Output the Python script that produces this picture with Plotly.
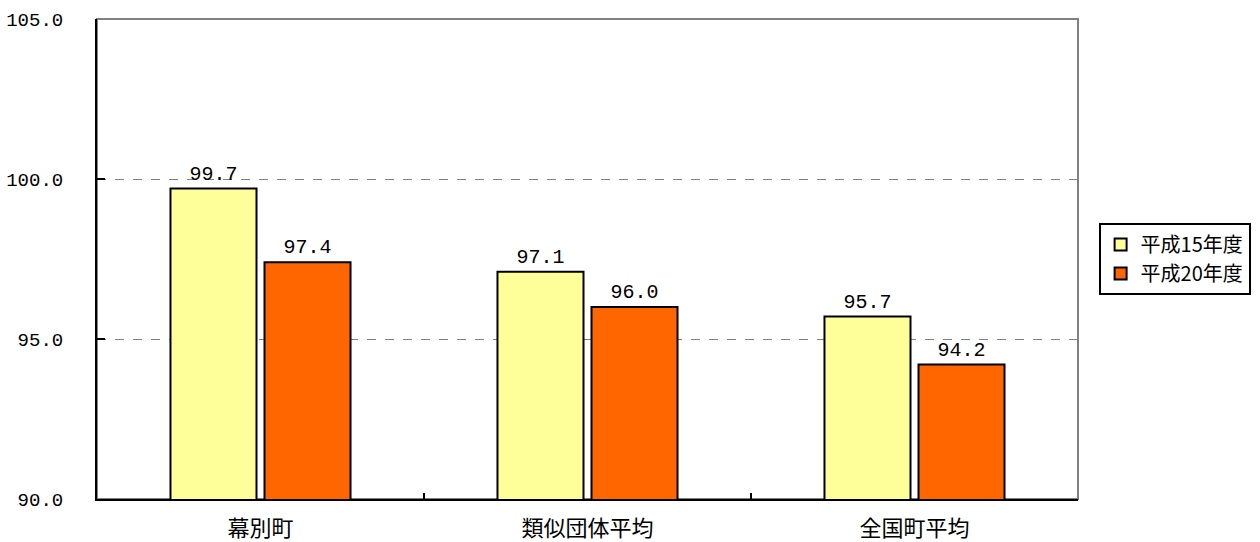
import plotly.graph_objects as go

categories = ["幕別町", "類似団体平均", "全国町平均"]
series_names = ["平成15年度", "平成20年度"]
h15 = [99.7, 97.1, 95.7]
h20 = [97.4, 96.0, 94.2]
y_ticks = [90, 95, 100, 105]

CJK = "Noto Sans CJK JP"
NUM = "Liberation Mono, Noto Sans CJK JP"

fig = go.Figure()
for name, vals, color in [(series_names[0], h15, "#FFFF99"), (series_names[1], h20, "#FF6600")]:
    fig.add_trace(go.Bar(
        x=categories, y=vals, name=name,
        marker=dict(color=color, line=dict(color="black", width=2)),
        text=[f"{v:.1f}" for v in vals], textposition="outside",
        textfont=dict(size=20, color="black", family=NUM),
        cliponaxis=False,
    ))

fig.update_layout(
    width=1260, height=542,
    margin=dict(l=97, r=182, t=19, b=43, autoexpand=False),
    paper_bgcolor="white", plot_bgcolor="white",
    barmode="group", bargap=0.425, bargroupgap=0.085,
    font=dict(family=CJK, size=20, color="black"),
    showlegend=True,
    legend=dict(x=1.021, y=0.5, xanchor="left", yanchor="middle",
                bordercolor="black", borderwidth=2,
                font=dict(size=20, family=CJK), traceorder="normal",
                itemwidth=30, tracegroupgap=0),
    shapes=[dict(type="rect", xref="paper", yref="paper", x0=0, x1=1, y0=0, y1=1,
                 line=dict(color="#808080", width=2), layer="below")],
)
fig.update_yaxes(range=[90, 105], tickvals=y_ticks, ticktext=[f"{v:.1f}" for v in y_ticks],
                 showgrid=True, gridcolor="#808080", griddash="dash", gridwidth=1,
                 showline=True, linecolor="black", linewidth=2,
                 ticks="inside", ticklen=8, tickcolor="black", tickwidth=2,
                 ticklabelstandoff=28, zeroline=False, automargin=False,
                 tickfont=dict(size=19, family=NUM))
fig.update_xaxes(showline=True, linecolor="black", linewidth=2,
                 ticks="inside", tickson="boundaries", ticklen=6, tickcolor="black", tickwidth=2,
                 tickfont=dict(size=22, family=CJK), ticklabelstandoff=9, automargin=False)

fig.write_html("out.html", config={"displayModeBar": False},
               post_script="document.body.style.margin='0';document.body.style.overflow='hidden';")
